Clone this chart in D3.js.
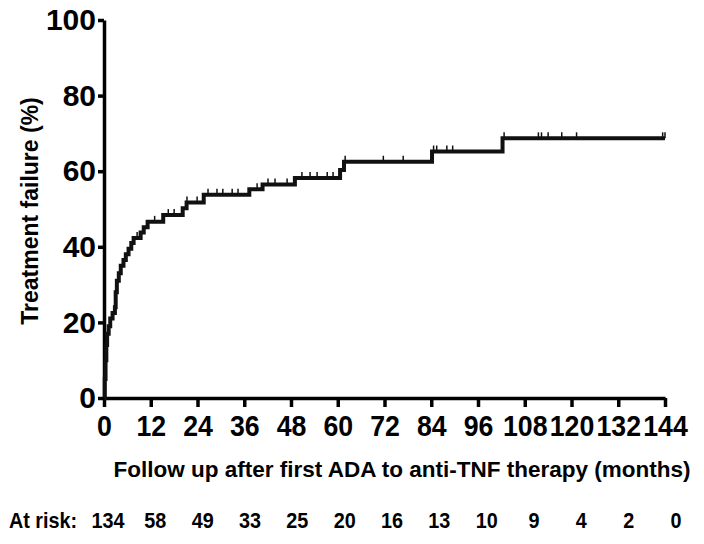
<!DOCTYPE html>
<html>
<head>
<meta charset="utf-8">
<script src="https://cdn.jsdelivr.net/npm/d3@7"></script>
<style>
  body { margin: 0; background: #fff; }
  svg { display: block; }
  text { font-family: "Liberation Sans", Arial, sans-serif; font-weight: bold; fill: #000; }
</style>
</head>
<body>
<div id="chart"></div>
<script>
// Kaplan-Meier style cumulative failure curve.
const eventTimes = [0, 0.2, 0.4, 0.6, 0.8, 1.2, 1.6, 2.2, 2.8, 3.0, 3.3, 3.8, 4.3, 5.0, 5.6, 6.3, 7.0, 7.6,
  9.4, 10.2, 11.2, 15.2, 20.2, 21.2, 25.6, 37.3, 40.7, 49.0, 60.6, 61.6, 84.2, 102.3];
const failurePct = [0, 5, 10, 14, 17, 19, 21, 22.5, 24, 28, 31, 33, 35, 36.5, 38, 39.5, 41, 42.3,
  43.8, 45.2, 46.6, 48.4, 50.2, 51.7, 53.8, 55.2, 56.5, 58.2, 60.3, 62.5, 65.2, 68.7];
const endTime = 144;
// censored observations (tick marks on the curve)
const censorTimes = [8.5, 13, 16.5, 18, 21.3, 23.9, 26.7, 29, 30.5, 32.9, 34.4, 39.3, 42.1, 43.9, 47,
  50.8, 52.9, 54.7, 57.3, 58.8, 61.9, 71.7, 76.8, 84.6, 85.4, 88, 89.5, 102.7, 111.5, 112.3, 114,
  117.5, 121.3, 143.4, 144];

const xTicks = [0, 12, 24, 36, 48, 60, 72, 84, 96, 108, 120, 132, 144];
const yTicks = [0, 20, 40, 60, 80, 100];
const atRisk = [134, 58, 49, 33, 25, 20, 16, 13, 10, 9, 4, 2, 0];

const W = 704, H = 544;
const svg = d3.select("#chart").append("svg").attr("width", W).attr("height", H);

const x = d3.scaleLinear().domain([0, 144]).range([104, 665]);
const y = d3.scaleLinear().domain([0, 100]).range([398, 20]);

// Axes (labels are a condensed bold face in the original, so squeeze horizontally)
const gx = svg.append("g").attr("transform", `translate(0,${y(0)})`)
  .call(d3.axisBottom(x).tickValues(xTicks).tickSize(9).tickPadding(8).tickSizeOuter(0));
gx.select(".domain").attr("stroke-width", 3.5);
gx.selectAll(".tick line").attr("stroke-width", 3.5);
gx.selectAll(".tick text").attr("font-size", 30).attr("fill", "#000")
  .attr("transform", "scale(0.89,1)");

const gy = svg.append("g").attr("transform", `translate(${x(0)},0)`)
  .call(d3.axisLeft(y).tickValues(yTicks).tickSize(6).tickPadding(2).tickSizeOuter(0));
gy.select(".domain").attr("stroke-width", 3.5);
gy.selectAll(".tick line").attr("stroke-width", 3.5);
gy.selectAll(".tick text").attr("font-size", 30).attr("fill", "#000");

// Curve
const steps = eventTimes.map((t, i) => [t, failurePct[i]]);
steps.push([endTime, failurePct[failurePct.length - 1]]);
const line = d3.line().x(d => x(d[0])).y(d => y(d[1])).curve(d3.curveStepAfter);
svg.append("path").datum(steps)
  .attr("fill", "none").attr("stroke", "#111").attr("stroke-width", 4)
  .attr("stroke-linejoin", "miter").attr("d", line);

// Censor marks
const bis = d3.bisector(d => d).right;
const valueAt = t => failurePct[Math.max(0, bis(eventTimes, t) - 1)];
svg.append("g").selectAll("line").data(censorTimes).join("line")
  .attr("x1", d => x(d)).attr("x2", d => x(d))
  .attr("y1", d => y(valueAt(d))).attr("y2", d => y(valueAt(d)) - 6)
  .attr("stroke", "#111").attr("stroke-width", 1.5);

// Titles
svg.append("text").attr("transform", "translate(38,211) rotate(-90)")
  .attr("text-anchor", "middle").attr("font-size", 23).text("Treatment failure (%)");
svg.append("text").attr("x", 402).attr("y", 477)
  .attr("text-anchor", "middle").attr("font-size", 22.5)
  .text("Follow up after first ADA to anti-TNF therapy (months)");

// At-risk row
const riskX = d3.scalePoint().domain(d3.range(atRisk.length)).range([108, 676]);
svg.append("text").attr("transform", "translate(9,528) scale(0.9,1)")
  .attr("font-size", 22).text("At risk:");
svg.append("g").selectAll("text").data(atRisk).join("text")
  .attr("transform", (d, i) => `translate(${riskX(i)},528) scale(0.9,1)`)
  .attr("text-anchor", "middle").attr("font-size", 22).text(d => d);
</script>
</body>
</html>
